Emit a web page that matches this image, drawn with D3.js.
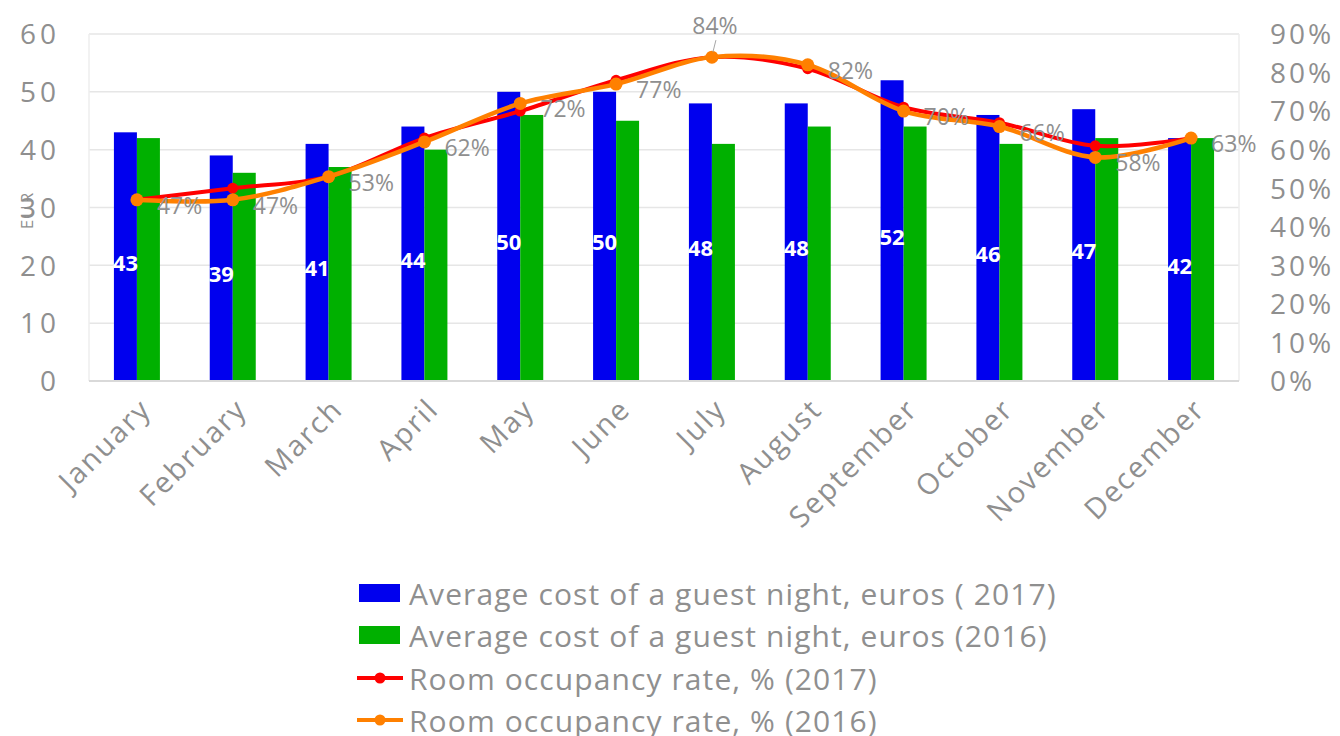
<!DOCTYPE html>
<html>
<head>
<meta charset="utf-8">
<script src="https://cdn.jsdelivr.net/npm/d3@7"></script>
<style>
  html, body { margin: 0; padding: 0; background: #ffffff; }
  svg { display: block; }
</style>
</head>
<body>
<svg id="chart" width="1340" height="736"></svg>
<script>
const months = ["January","February","March","April","May","June","July","August","September","October","November","December"];
const cost2017 = [43,39,41,44,50,50,48,48,52,46,47,42];
const cost2016 = [42,36,37,40,46,45,41,44,44,41,42,42];
const occ2017 = [0.47,0.50,0.53,0.63,0.70,0.78,0.84,0.81,0.71,0.67,0.61,0.63];
const occ2016 = [0.47,0.47,0.53,0.62,0.72,0.77,0.84,0.82,0.70,0.66,0.58,0.63];
const leftTicks = [0,10,20,30,40,50,60];
const rightTicks = [0,0.1,0.2,0.3,0.4,0.5,0.6,0.7,0.8,0.9];
const seriesNames = [
  "Average cost of a guest night, euros ( 2017)",
  "Average cost of a guest night, euros (2016)",
  "Room occupancy rate, % (2017)",
  "Room occupancy rate, % (2016)"
];

const C = { blue: "#0000EE", green: "#00B000", red: "#FF0000", orange: "#FF8000", text: "#8f8f8f", grid: "#e6e6e6" };
const FONT = "'Open Sans', 'DejaVu Sans', sans-serif";

const svg = d3.select("#chart");
const L = 89, R = 1239, T = 34, B = 381;

const x = d3.scaleBand().domain(months).range([L, R]).paddingInner(0.52).paddingOuter(0.26);
const xs = d3.scaleBand().domain(["2017","2016"]).range([0, x.bandwidth()]);
const yL = d3.scaleLinear().domain([0, 60]).range([B, T]);
const yR = d3.scaleLinear().domain([0, 0.9]).range([B, T]);
const cx = m => x(m) + x.bandwidth() / 2;

// gridlines
svg.append("g").selectAll("line").data(leftTicks.filter(d => d > 0)).join("line")
  .attr("x1", L).attr("x2", R).attr("y1", d => yL(d)).attr("y2", d => yL(d))
  .attr("stroke", C.grid).attr("stroke-width", 1.5);
// plot border sides
svg.append("line").attr("x1", L).attr("x2", L).attr("y1", T).attr("y2", B).attr("stroke", "#eeeeee").attr("stroke-width", 1.5);
svg.append("line").attr("x1", R).attr("x2", R).attr("y1", T).attr("y2", B).attr("stroke", "#eeeeee").attr("stroke-width", 1.5);

// left axis
const axL = d3.axisLeft(yL).tickValues(leftTicks).tickSize(0).tickPadding(0);
const gL = svg.append("g").attr("transform", `translate(60,0)`).call(axL);
gL.select(".domain").remove();
gL.selectAll("text").attr("fill", C.text).style("font-family", FONT).style("font-size", "28px")
  .style("letter-spacing", "4px").attr("dy", "0.35em");

// right axis
const axR = d3.axisRight(yR).tickValues(rightTicks).tickSize(0).tickPadding(0).tickFormat(d3.format(".0%"));
const gR = svg.append("g").attr("transform", `translate(1270,0)`).call(axR);
gR.select(".domain").remove();
gR.selectAll("text").attr("fill", C.text).style("font-family", FONT).style("font-size", "28px")
  .style("letter-spacing", "3px").attr("dy", "0.35em");

// bars
const gb = svg.append("g");
gb.selectAll("rect.b17").data(months).join("rect").attr("class", "b17")
  .attr("x", (m) => x(m) + xs("2017")).attr("width", xs.bandwidth())
  .attr("y", (m, i) => yL(cost2017[i])).attr("height", (m, i) => B - yL(cost2017[i]))
  .attr("fill", C.blue);
gb.selectAll("rect.b16").data(months).join("rect").attr("class", "b16")
  .attr("x", (m) => x(m) + xs("2016")).attr("width", xs.bandwidth())
  .attr("y", (m, i) => yL(cost2016[i])).attr("height", (m, i) => B - yL(cost2016[i]))
  .attr("fill", C.green);

// x axis line
svg.append("line").attr("x1", L).attr("x2", R).attr("y1", B).attr("y2", B).attr("stroke", "#d9d9d9").attr("stroke-width", 2);

// bar labels (2017)
gb.selectAll("text.l17").data(months).join("text").attr("class", "l17")
  .attr("x", m => x(m) + xs("2017") + xs.bandwidth() / 2)
  .attr("y", (m, i) => (yL(cost2017[i]) + B) / 2 + 5)
  .attr("text-anchor", "middle").attr("dominant-baseline", "central")
  .attr("fill", "#ffffff").style("font-family", FONT).style("font-weight", "700").style("font-size", "22px")
  .text((m, i) => cost2017[i]);

// x labels
svg.append("g").selectAll("text").data(months).join("text")
  .attr("transform", m => `translate(${cx(m) + 16},${B + 30}) rotate(-45)`)
  .attr("text-anchor", "end")
  .attr("fill", C.text).style("font-family", FONT).style("font-size", "29px").style("letter-spacing", "2px")
  .text(m => m);

// lines
const line = (vals) => d3.line().x((d, i) => cx(months[i])).y(d => yR(d)).curve(d3.curveCardinal.tension(0))(vals);
svg.append("path").attr("d", line(occ2017)).attr("fill", "none").attr("stroke", C.red).attr("stroke-width", 4);
svg.append("g").selectAll("circle").data(occ2017).join("circle")
  .attr("cx", (d, i) => cx(months[i])).attr("cy", d => yR(d)).attr("r", 5.5).attr("fill", C.red);
svg.append("path").attr("d", line(occ2016)).attr("fill", "none").attr("stroke", C.orange).attr("stroke-width", 4.5);
svg.append("g").selectAll("circle").data(occ2016).join("circle")
  .attr("cx", (d, i) => cx(months[i])).attr("cy", d => yR(d)).attr("r", 6.5).attr("fill", C.orange);

// 2016 occupancy labels
const fmt = d3.format(".0%");
const peak = d3.maxIndex(occ2016);
const gl = svg.append("g");
gl.selectAll("text").data(occ2016).join("text")
  .attr("x", (d, i) => i === peak ? cx(months[i]) + 3 : cx(months[i]) + 20)
  .attr("y", (d, i) => i === peak ? yR(d) - 32 : yR(d) + 5)
  .attr("text-anchor", (d, i) => i === peak ? "middle" : "start")
  .attr("dominant-baseline", "central")
  .attr("fill", C.text).style("font-family", FONT).style("font-size", "23px")
  .text(d => fmt(d));
gl.append("line")
  .attr("x1", cx(months[peak]) + 4).attr("y1", yR(occ2016[peak]) - 17)
  .attr("x2", cx(months[peak]) + 1).attr("y2", yR(occ2016[peak]) - 5)
  .attr("stroke", "#a6a6a6").attr("stroke-width", 1);

// y axis title
svg.append("text").attr("transform", "translate(33,210) rotate(-90)")
  .attr("text-anchor", "middle").attr("fill", C.text)
  .style("font-family", FONT).style("font-size", "17px").style("letter-spacing", "2px").text("EUR");

// legend
const lg = svg.append("g");
const rowY = [593, 635, 678, 720];
const types = ["bar","bar","line","line"];
const cols = [C.blue, C.green, C.red, C.orange];
seriesNames.forEach((name, i) => {
  if (types[i] === "bar") {
    lg.append("rect").attr("x", 359).attr("y", rowY[i] - 9).attr("width", 41).attr("height", 18).attr("fill", cols[i]);
  } else {
    lg.append("line").attr("x1", 357).attr("x2", 403).attr("y1", rowY[i]).attr("y2", rowY[i]).attr("stroke", cols[i]).attr("stroke-width", 4);
    lg.append("circle").attr("cx", 380).attr("cy", rowY[i]).attr("r", 5.5).attr("fill", cols[i]);
  }
  lg.append("text").attr("x", 409).attr("y", rowY[i]).attr("dominant-baseline", "central")
    .attr("fill", C.text).style("font-family", FONT).style("font-size", "30px").style("letter-spacing", "1.1px").text(name);
});
</script>
</body>
</html>
